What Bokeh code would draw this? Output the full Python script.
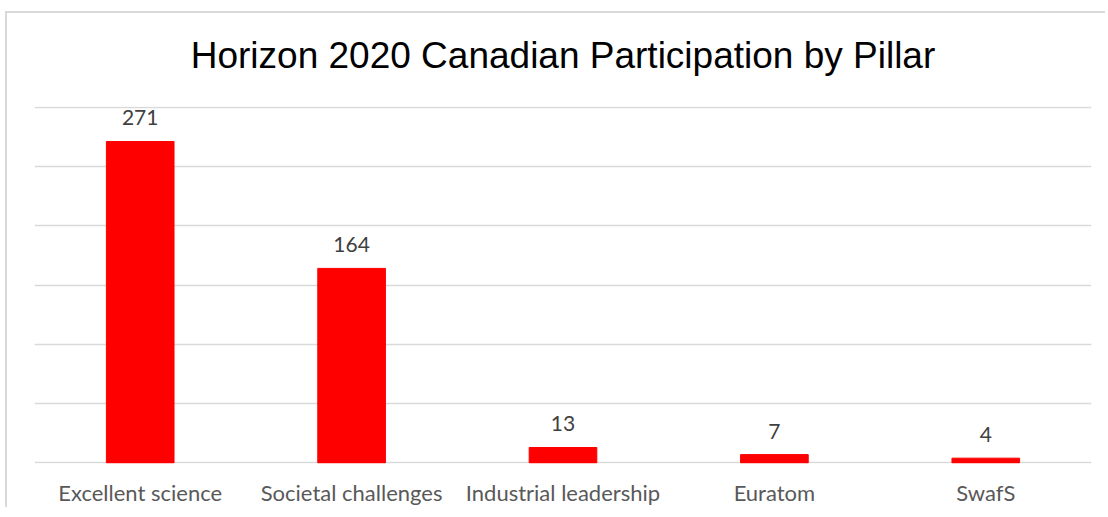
from bokeh.plotting import figure
from bokeh.models import ColumnDataSource, Range1d, SingleIntervalTicker, LabelSet, Title
from bokeh.core.properties import value
from bokeh.embed import file_html
from bokeh.resources import INLINE

categories = ["Excellent science", "Societal challenges", "Industrial leadership", "Euratom", "SwafS"]
values = [271, 164, 13, 7, 4]
title_text = "Horizon 2020 Canadian Participation by Pillar"

src = ColumnDataSource(dict(cat=categories, val=values, lab=[str(v) for v in values]))

p = figure(x_range=categories, y_range=Range1d(-0.5, 300.5), width=1100, height=496,
           output_backend="svg", toolbar_location=None,
           min_border_left=27, min_border_right=16, min_border_top=93, min_border_bottom=46)
p.styles = {"margin-top": "11px", "margin-left": "5px",
            "border-top": "2px solid #d9d9d9", "border-left": "2px solid #d9d9d9"}

# spacer between frame and title (closest to the frame)
p.add_layout(Title(text=" ", text_font_size="1px", standoff=28, align="center"), "above")
# main title
p.add_layout(Title(text=title_text, text_font="Liberation Sans", text_font_size="37px",
                   text_font_style="normal", text_color="#000000", align="center",
                   standoff=0), "above")

p.vbar(x="cat", top="val", width=0.32, source=src, fill_color="#FF0000", line_color="#FF0000")

labels = LabelSet(x="cat", y="val", text="lab", source=src, text_align="center",
                  text_baseline="alphabetic", y_offset=16, text_font=value("Lato"),
                  text_font_size="21px", text_color="#404040")
p.add_layout(labels)

p.outline_line_color = None
p.xgrid.grid_line_color = None
p.ygrid.grid_line_color = "#d9d9d9"
p.ygrid.grid_line_width = 1.5
p.yaxis.ticker = SingleIntervalTicker(interval=50)
p.yaxis.visible = False

p.xaxis.axis_line_color = None
p.xaxis.major_tick_line_color = None
p.xaxis.minor_tick_line_color = None
p.xaxis.major_tick_in = 0
p.xaxis.major_tick_out = 0
p.xaxis.major_label_standoff = 15
p.xaxis.major_label_text_font = "Lato"
p.xaxis.major_label_text_font_size = "22px"
p.xaxis.major_label_text_color = "#595959"
p.xaxis.major_label_text_font_style = "normal"

open("out.html", "w").write(file_html(p, INLINE))
